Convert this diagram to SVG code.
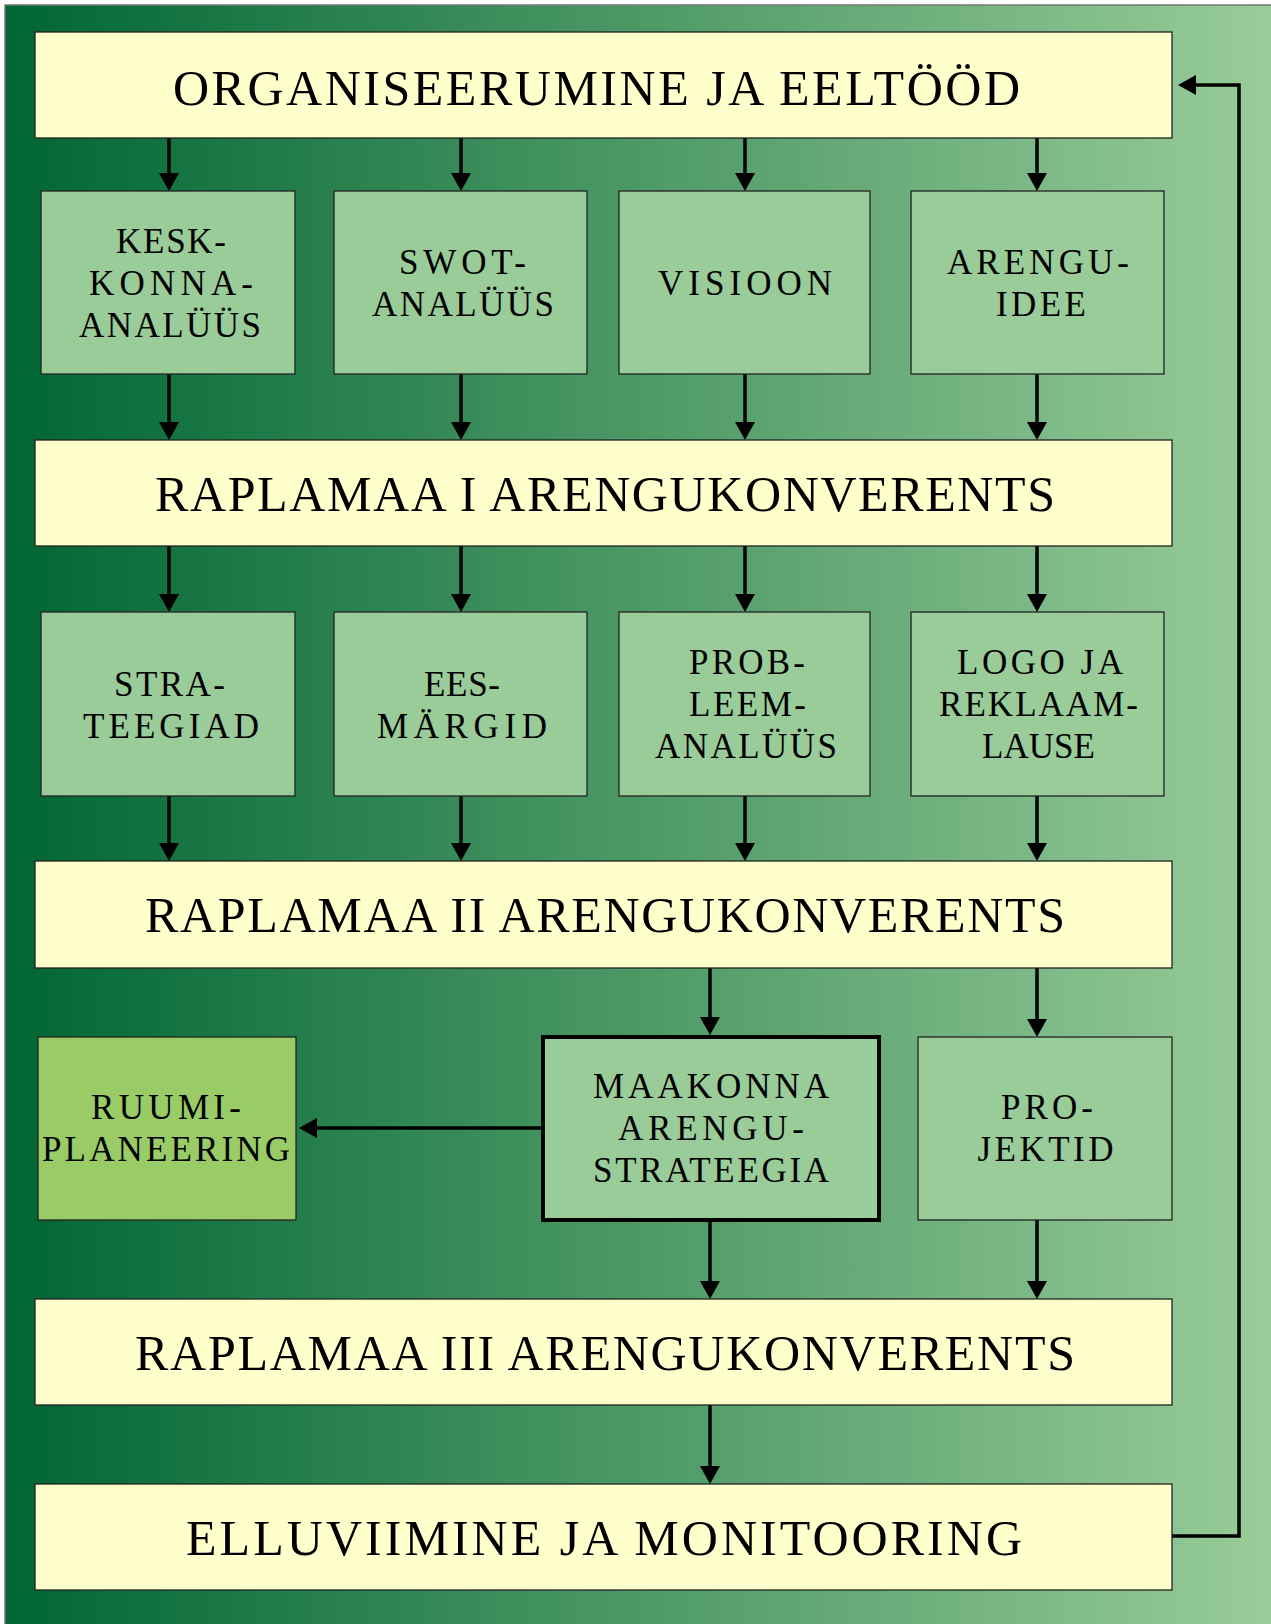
<svg xmlns="http://www.w3.org/2000/svg" width="1271" height="1624" viewBox="0 0 1271 1624">
<defs>
<linearGradient id="bg" x1="5" y1="0" x2="1271" y2="0" gradientUnits="userSpaceOnUse">
<stop offset="0" stop-color="#006633"/>
<stop offset="1" stop-color="#99CC99"/>
</linearGradient>
<marker id="ah" markerUnits="userSpaceOnUse" markerWidth="20" markerHeight="20" refX="0" refY="10" orient="auto" viewBox="0 0 20 20">
<path d="M0,0 L18,10 L0,20 z" fill="#000"/>
</marker>
<style>
.wide{fill:#FFFFCC;stroke:#222;stroke-width:1.3}
.box{fill:#99CC99;stroke:#222;stroke-width:1.3}
.lime{fill:#99CC66;stroke:#222;stroke-width:1.3}
.key{fill:#99CC99;stroke:#000;stroke-width:4}
.t{font-family:"Liberation Serif","Times New Roman",serif;font-size:50px;fill:#000;text-anchor:middle}
.s{font-family:"Liberation Serif","Times New Roman",serif;font-size:35px;fill:#000;text-anchor:middle}
.c{fill:none;stroke:#000;stroke-width:3.5;marker-end:url(#ah)}
</style>
</defs>
<rect x="5" y="5" width="1300" height="1700" fill="url(#bg)" stroke="#777" stroke-width="1.5"/>

<g id="connectors">
<line class="c" x1="169" y1="138" x2="169" y2="173"/>
<line class="c" x1="461" y1="138" x2="461" y2="173"/>
<line class="c" x1="745" y1="138" x2="745" y2="173"/>
<line class="c" x1="1037" y1="138" x2="1037" y2="173"/>
<line class="c" x1="169" y1="374" x2="169" y2="422"/>
<line class="c" x1="461" y1="374" x2="461" y2="422"/>
<line class="c" x1="745" y1="374" x2="745" y2="422"/>
<line class="c" x1="1037" y1="374" x2="1037" y2="422"/>
<line class="c" x1="169" y1="546" x2="169" y2="594"/>
<line class="c" x1="461" y1="546" x2="461" y2="594"/>
<line class="c" x1="745" y1="546" x2="745" y2="594"/>
<line class="c" x1="1037" y1="546" x2="1037" y2="594"/>
<line class="c" x1="169" y1="796" x2="169" y2="843"/>
<line class="c" x1="461" y1="796" x2="461" y2="843"/>
<line class="c" x1="745" y1="796" x2="745" y2="843"/>
<line class="c" x1="1037" y1="796" x2="1037" y2="843"/>
<line class="c" x1="710" y1="968" x2="710" y2="1017"/>
<line class="c" x1="1037" y1="968" x2="1037" y2="1019"/>
<line class="c" x1="541" y1="1128" x2="317" y2="1128"/>
<line class="c" x1="710" y1="1222" x2="710" y2="1281"/>
<line class="c" x1="1037" y1="1220" x2="1037" y2="1281"/>
<line class="c" x1="710" y1="1405" x2="710" y2="1466"/>
<polyline class="c" points="1172,1536 1239,1536 1239,85 1196,85"/>
</g>

<g id="n-organiseerumine">
<rect class="wide" x="35" y="32" width="1137" height="106"/>
<text class="t" x="596.5" y="105" textLength="847" lengthAdjust="spacing">ORGANISEERUMINE JA EELTÖÖD</text>
</g>
<g id="n-keskkonna">
<rect class="box" x="41" y="191" width="254" height="183"/>
<text class="s" x="171" y="253" textLength="110" lengthAdjust="spacing">KESK-</text>
<text class="s" x="171" y="295" textLength="164" lengthAdjust="spacing">KONNA-</text>
<text class="s" x="170" y="337" textLength="182" lengthAdjust="spacing">ANALÜÜS</text>
</g>
<g id="n-swot">
<rect class="box" x="334" y="191" width="253" height="183"/>
<text class="s" x="462.5" y="274" textLength="127" lengthAdjust="spacing">SWOT-</text>
<text class="s" x="463" y="316" textLength="182" lengthAdjust="spacing">ANALÜÜS</text>
</g>
<g id="n-visioon">
<rect class="box" x="619" y="191" width="251" height="183"/>
<text class="s" x="745" y="295" textLength="174" lengthAdjust="spacing">VISIOON</text>
</g>
<g id="n-arenguidee">
<rect class="box" x="911" y="191" width="253" height="183"/>
<text class="s" x="1038" y="274" textLength="182" lengthAdjust="spacing">ARENGU-</text>
<text class="s" x="1041" y="316" textLength="90" lengthAdjust="spacing">IDEE</text>
</g>
<g id="n-konverents1">
<rect class="wide" x="35" y="440" width="1137" height="106"/>
<text class="t" x="605" y="511" textLength="900" lengthAdjust="spacing">RAPLAMAA I ARENGUKONVERENTS</text>
</g>
<g id="n-strateegiad">
<rect class="box" x="41" y="612" width="254" height="184"/>
<text class="s" x="169.5" y="696" textLength="111" lengthAdjust="spacing">STRA-</text>
<text class="s" x="171" y="738" textLength="176" lengthAdjust="spacing">TEEGIAD</text>
</g>
<g id="n-eesmargid">
<rect class="box" x="334" y="612" width="253" height="184"/>
<text class="s" x="462" y="696" textLength="76" lengthAdjust="spacing">EES-</text>
<text class="s" x="462" y="738" textLength="170" lengthAdjust="spacing">MÄRGID</text>
</g>
<g id="n-probleem">
<rect class="box" x="619" y="612" width="251" height="184"/>
<text class="s" x="747" y="674" textLength="116" lengthAdjust="spacing">PROB-</text>
<text class="s" x="747.5" y="716" textLength="117" lengthAdjust="spacing">LEEM-</text>
<text class="s" x="746" y="758" textLength="182" lengthAdjust="spacing">ANALÜÜS</text>
</g>
<g id="n-logo">
<rect class="box" x="911" y="612" width="253" height="184"/>
<text class="s" x="1040" y="674" textLength="166" lengthAdjust="spacing">LOGO JA</text>
<text class="s" x="1038.5" y="716" textLength="199" lengthAdjust="spacing">REKLAAM-</text>
<text class="s" x="1038.5" y="758" textLength="113" lengthAdjust="spacing">LAUSE</text>
</g>
<g id="n-konverents2">
<rect class="wide" x="35" y="861" width="1137" height="107"/>
<text class="t" x="605" y="932" textLength="920" lengthAdjust="spacing">RAPLAMAA II ARENGUKONVERENTS</text>
</g>
<g id="n-ruumiplaneering">
<rect class="lime" x="38" y="1037" width="258" height="183"/>
<text class="s" x="166" y="1119" textLength="150" lengthAdjust="spacing">RUUMI-</text>
<text class="s" x="166" y="1161" textLength="248" lengthAdjust="spacing">PLANEERING</text>
</g>
<g id="n-maakonna">
<rect class="key" x="543" y="1037" width="336" height="183"/>
<text class="s" x="711" y="1098" textLength="236" lengthAdjust="spacing">MAAKONNA</text>
<text class="s" x="711" y="1140" textLength="186" lengthAdjust="spacing">ARENGU-</text>
<text class="s" x="711" y="1182" textLength="236" lengthAdjust="spacing">STRATEEGIA</text>
</g>
<g id="n-projektid">
<rect class="box" x="918" y="1037" width="254" height="183"/>
<text class="s" x="1047" y="1119" textLength="92" lengthAdjust="spacing">PRO-</text>
<text class="s" x="1045.5" y="1161" textLength="136" lengthAdjust="spacing">JEKTID</text>
</g>
<g id="n-konverents3">
<rect class="wide" x="35" y="1299" width="1137" height="106"/>
<text class="t" x="605" y="1370" textLength="940" lengthAdjust="spacing">RAPLAMAA III ARENGUKONVERENTS</text>
</g>
<g id="n-elluviimine">
<rect class="wide" x="35" y="1484" width="1137" height="106"/>
<text class="t" x="604" y="1555" textLength="836" lengthAdjust="spacing">ELLUVIIMINE JA MONITOORING</text>
</g>
</svg>
